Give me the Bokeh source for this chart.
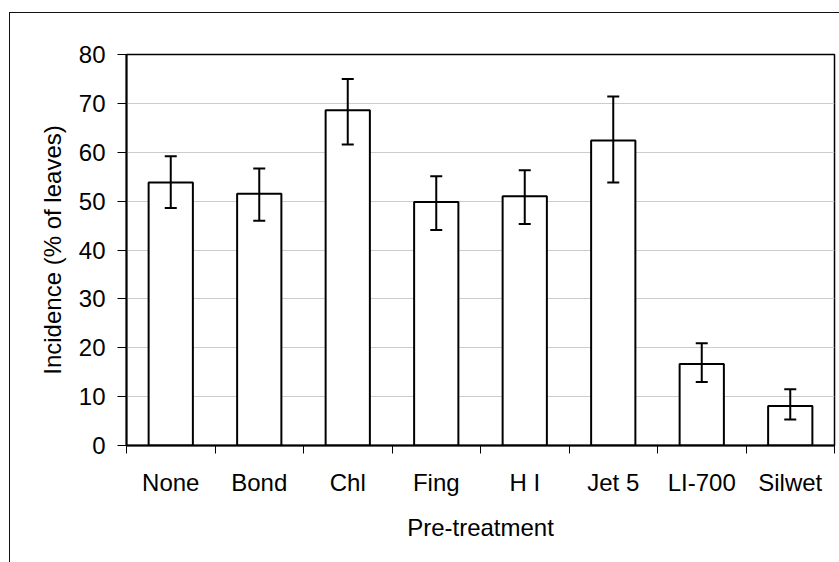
import numpy as np
from bokeh.plotting import figure
from bokeh.models import Range1d, FixedTicker, ColumnDataSource, Whisker, TeeHead
from bokeh.embed import file_html
from bokeh.resources import INLINE

# Data
categories = ["None", "Bond", "Chl", "Fing", "H I", "Jet 5", "LI-700", "Silwet"]
incidence = [53.8, 51.5, 68.6, 49.8, 51.0, 62.4, 16.7, 8.1]
err_upper = [59.2, 56.7, 75.0, 55.1, 56.3, 71.4, 20.9, 11.5]
err_lower = [48.6, 46.0, 61.6, 44.1, 45.3, 53.8, 13.0, 5.3]
y_ticks = [0, 10, 20, 30, 40, 50, 60, 70, 80]

FONT = "Liberation Sans"
FS = "24px"

n = len(categories)
centers = [i + 0.5 for i in range(n)]
bounds = list(range(n + 1))

src = ColumnDataSource(dict(x=centers, top=incidence, upper=err_upper, lower=err_lower, cat=categories))

p = figure(frame_width=708, frame_height=391, width=830, height=549,
           x_range=Range1d(0, n), y_range=Range1d(0, 80),
           output_backend="svg", toolbar_location=None,
           min_border_left=116, min_border_top=41, min_border_right=6, min_border_bottom=117)
p.styles = {"margin-left": "9px", "margin-top": "12px",
            "border-left": "1px solid #111", "border-top": "1px solid #111"}

p.background_fill_color = "white"
p.border_fill_color = "white"
p.outline_line_color = "black"
p.outline_line_width = 1.5

p.vbar(x="x", top="top", width=0.5, bottom=0, source=src,
       fill_color="white", line_color="black", line_width=2)

w = Whisker(base="x", upper="upper", lower="lower", source=src,
            line_color="black", line_width=2, level="overlay",
            upper_head=TeeHead(size=12, line_color="black", line_width=2),
            lower_head=TeeHead(size=12, line_color="black", line_width=2))
p.add_layout(w)

# x axis
xa = p.xaxis[0]
xa.ticker = FixedTicker(ticks=centers, minor_ticks=bounds)
xa.major_label_overrides = {c: lab for c, lab in zip(centers, categories)}
xa.major_tick_line_color = None
xa.major_tick_out = 8
xa.major_tick_in = 0
xa.minor_tick_line_color = "black"
xa.minor_tick_line_width = 1
xa.minor_tick_out = 8
xa.minor_tick_in = 0
xa.axis_line_color = "black"
xa.axis_line_width = 2
xa.major_label_text_font = FONT
xa.major_label_text_font_size = FS
xa.major_label_text_color = "black"
xa.major_label_standoff = 15
xa.axis_label = "Pre-treatment"
xa.axis_label_text_font = FONT
xa.axis_label_text_font_size = FS
xa.axis_label_text_font_style = "normal"
xa.axis_label_text_color = "black"
xa.axis_label_standoff = 15

# y axis
ya = p.yaxis[0]
ya.ticker = FixedTicker(ticks=y_ticks, minor_ticks=[])
ya.major_tick_line_color = "black"
ya.major_tick_line_width = 1
ya.major_tick_out = 9
ya.major_tick_in = 0
ya.minor_tick_line_color = None
ya.axis_line_color = "black"
ya.axis_line_width = 2
ya.major_label_text_font = FONT
ya.major_label_text_font_size = FS
ya.major_label_text_color = "black"
ya.major_label_standoff = 12
ya.axis_label = "Incidence (% of leaves)"
ya.axis_label_text_font = FONT
ya.axis_label_text_font_size = FS
ya.axis_label_text_font_style = "normal"
ya.axis_label_text_color = "black"
ya.axis_label_standoff = 10

p.xgrid.grid_line_color = None
p.ygrid.grid_line_color = "#cccccc"
p.ygrid.grid_line_width = 1

open("out.html", "w").write(file_html(p, INLINE))
